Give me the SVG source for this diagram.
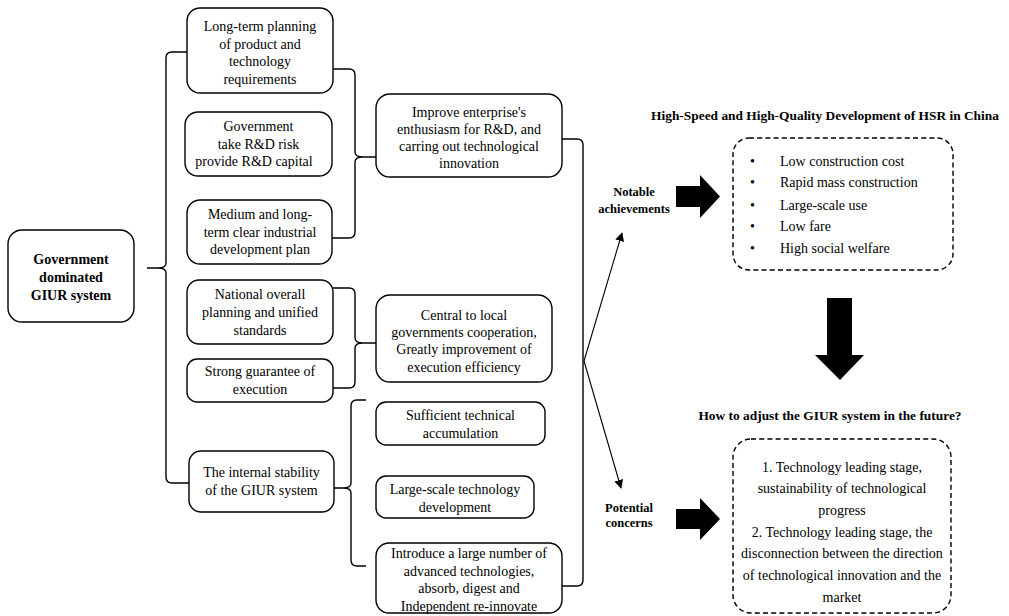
<svg xmlns="http://www.w3.org/2000/svg" width="1009" height="616" viewBox="0 0 1009 616">
  <defs>
    <style>
      .box { fill: #ffffff; stroke: #000000; stroke-width: 1.4; }
      .dash { fill: none; stroke: #000000; stroke-width: 1.4; stroke-dasharray: 5 3.2; }
      .txt { font-family: "Liberation Serif", "Times New Roman", serif; font-size: 14px; fill: #000000; text-anchor: middle; }
      .left { text-anchor: start; }
      .bold { font-weight: bold; }
      .lbl { font-family: "Liberation Serif", "Times New Roman", serif; font-size: 12.5px; font-weight: bold; fill: #000000; text-anchor: middle; }
      .ttl { font-family: "Liberation Serif", "Times New Roman", serif; font-size: 13.4px; font-weight: bold; fill: #000000; text-anchor: middle; }
      .brace { fill: none; stroke: #000000; stroke-width: 1.4; stroke-linejoin: round; }
      .line { fill: none; stroke: #000000; stroke-width: 1.1; }
      .block { fill: #000000; stroke: none; }
    </style>
    <marker id="head" viewBox="0 0 10 10" refX="9" refY="5" markerWidth="9" markerHeight="9" markerUnits="userSpaceOnUse" orient="auto">
      <path d="M0,0 L10,5 L0,10 Z" fill="#000000"/>
    </marker>
  </defs>

  <rect width="1009" height="616" fill="#ffffff"/>

  <!-- connectors: braces, arrows, block arrows -->
  <g id="connectors">
    <path class="brace" d="M187,52 H172 Q166,52 166,58 V263 C166,267 163,268 158,268 H147 M158,268 C163,268 166,269 166,273 V477 Q166,483 172,483 H189"/>
    <path class="brace" d="M333,69 H349 Q355,69 355,75 V152 C355,156 358,157 363,157 H376 M363,157 C358,157 355,158 355,162 V232 Q355,238 349,238 H332"/>
    <path class="brace" d="M333,288 H349 Q355,288 355,294 V338 C355,342 358,343 363,343 H376 M363,343 C358,343 355,344 355,348 V382 Q355,388 349,388 H333"/>
    <path class="brace" d="M366,400 H357 Q351,400 351,406 V483 C351,487 348,488 343,488 H334 M343,488 C348,488 351,489 351,493 V560 Q351,566 357,566 H366"/>
    <path class="brace" d="M562,139 H577 Q583,139 583,145 V580 Q583,586 577,586 H562"/>
    <line class="line" x1="584" y1="361" x2="622" y2="233" marker-end="url(#head)"/>
    <line class="line" x1="584" y1="361" x2="621" y2="488" marker-end="url(#head)"/>
    <polygon class="block" points="676,186 700,186 700,175 720,196.5 700,218 700,207 676,207"/>
    <polygon class="block" points="676,509 700,509 700,498 720,519 700,540 700,529 676,529"/>
    <polygon class="block" points="827,298 852,298 852,355 864,355 840,380 815,355 827,355"/>
  </g>

  <g id="root">
    <rect class="box" x="8" y="230" width="126" height="92" rx="14"/>
    <text class="txt bold" x="71" y="264">Government</text>
    <text class="txt bold" x="71" y="282">dominated</text>
    <text class="txt bold" x="71" y="300">GIUR system</text>
  </g>

  <g id="long-term-planning">
    <rect class="box" x="187" y="8" width="146" height="85" rx="13"/>
    <text class="txt" x="260" y="31">Long-term planning</text>
    <text class="txt" x="260" y="49">of product and</text>
    <text class="txt" x="260" y="66">technology</text>
    <text class="txt" x="260" y="84">requirements</text>
  </g>

  <g id="rd-risk">
    <rect class="box" x="185" y="112" width="147" height="64" rx="13"/>
    <text class="txt" x="258.5" y="131">Government</text>
    <text class="txt" x="258.5" y="148.5">take R&amp;D risk</text>
    <text class="txt" x="254" y="166">provide R&amp;D capital</text>
  </g>

  <g id="industrial-plan">
    <rect class="box" x="187" y="200" width="145" height="64" rx="13"/>
    <text class="txt" x="260" y="219">Medium and long-</text>
    <text class="txt" x="260" y="237">term clear industrial</text>
    <text class="txt" x="260" y="254">development plan</text>
  </g>

  <g id="national-planning">
    <rect class="box" x="187" y="280" width="146" height="64" rx="12"/>
    <text class="txt" x="260" y="299">National overall</text>
    <text class="txt" x="260" y="317">planning and unified</text>
    <text class="txt" x="260" y="335">standards</text>
  </g>

  <g id="execution-guarantee">
    <rect class="box" x="187" y="359" width="146" height="43" rx="10"/>
    <text class="txt" x="260" y="376">Strong guarantee of</text>
    <text class="txt" x="260" y="394">execution</text>
  </g>

  <g id="internal-stability">
    <rect class="box" x="189" y="451" width="145" height="61" rx="12"/>
    <text class="txt" x="261.5" y="477">The internal stability</text>
    <text class="txt" x="261.5" y="495">of the GIUR system</text>
  </g>

  <g id="enterprise-enthusiasm">
    <rect class="box" x="376" y="94" width="186" height="83" rx="14"/>
    <text class="txt" x="469" y="116.5">Improve enterprise's</text>
    <text class="txt" x="469" y="133.5">enthusiasm for R&amp;D, and</text>
    <text class="txt" x="469" y="150.5">carring out technological</text>
    <text class="txt" x="469" y="167.5">innovation</text>
  </g>

  <g id="central-local">
    <rect class="box" x="376" y="295" width="176" height="87" rx="14"/>
    <text class="txt" x="464" y="319.5">Central to local</text>
    <text class="txt" x="464" y="336.5">governments cooperation,</text>
    <text class="txt" x="464" y="353.5">Greatly improvement of</text>
    <text class="txt" x="464" y="371.5">execution efficiency</text>
  </g>

  <g id="technical-accumulation">
    <rect class="box" x="376" y="402" width="169" height="43" rx="10"/>
    <text class="txt" x="460.5" y="420">Sufficient technical</text>
    <text class="txt" x="460.5" y="438">accumulation</text>
  </g>

  <g id="large-scale-development">
    <rect class="box" x="376" y="476" width="158" height="42" rx="10"/>
    <text class="txt" x="455" y="493.5">Large-scale technology</text>
    <text class="txt" x="455" y="511.5">development</text>
  </g>

  <g id="introduce-technologies">
    <rect class="box" x="376" y="543" width="186" height="70" rx="13"/>
    <text class="txt" x="469" y="557.5">Introduce a large number of</text>
    <text class="txt" x="469" y="575.5">advanced technologies,</text>
    <text class="txt" x="469" y="593">absorb, digest and</text>
    <text class="txt" x="469" y="610.5">Independent re-innovate</text>
  </g>

  <g id="notable-achievements">
    <text class="lbl" x="634" y="196">Notable</text>
    <text class="lbl" x="634" y="213">achievements</text>
  </g>

  <g id="potential-concerns">
    <text class="lbl" x="629" y="512">Potential</text>
    <text class="lbl" x="629" y="527">concerns</text>
  </g>

  <g id="hsr-development">
    <text class="ttl" x="825" y="119.5">High-Speed and High-Quality Development of HSR in China</text>
    <rect class="dash" x="733" y="138" width="220" height="132" rx="16"/>
    <g class="txt left">
      <text class="txt left" x="750" y="165.5">•</text>
      <text class="txt left" x="780" y="165.5">Low construction cost</text>
      <text class="txt left" x="750" y="187">•</text>
      <text class="txt left" x="780" y="187">Rapid mass construction</text>
      <text class="txt left" x="750" y="209.5">•</text>
      <text class="txt left" x="780" y="209.5">Large-scale use</text>
      <text class="txt left" x="750" y="231">•</text>
      <text class="txt left" x="780" y="231">Low fare</text>
      <text class="txt left" x="750" y="253">•</text>
      <text class="txt left" x="780" y="253">High social welfare</text>
    </g>
  </g>

  <g id="future-adjustment">
    <text class="ttl" x="830" y="419.5">How to adjust the GIUR system in the future?</text>
    <rect class="dash" x="733" y="439" width="218" height="174" rx="18"/>
    <text class="txt" x="842" y="471.5">1. Technology leading stage,</text>
    <text class="txt" x="842" y="492.5">sustainability of technological</text>
    <text class="txt" x="842" y="514.5">progress</text>
    <text class="txt" x="842" y="537">2. Technology leading stage, the</text>
    <text class="txt" x="842" y="557.5">disconnection between the direction</text>
    <text class="txt" x="842" y="579.5">of technological innovation and the</text>
    <text class="txt" x="842" y="601.5">market</text>
  </g>
</svg>
